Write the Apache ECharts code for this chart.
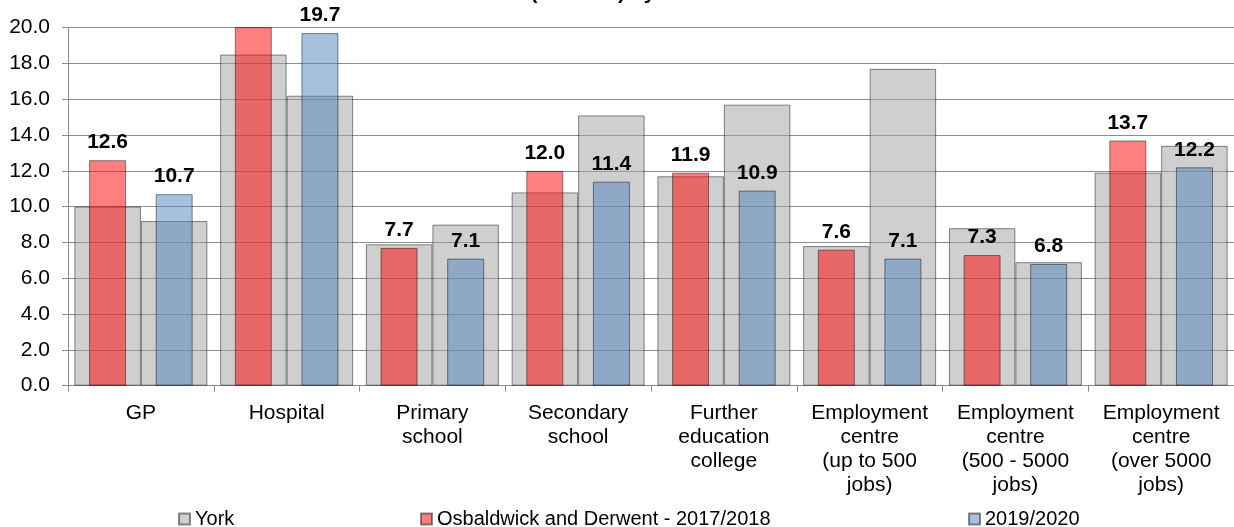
<!DOCTYPE html>
<html>
<head>
<meta charset="utf-8">
<script src="https://cdn.jsdelivr.net/npm/echarts@6/dist/echarts.min.js"></script>
<style>
  html, body { margin: 0; padding: 0; background: #ffffff; }
  #chart { width: 1234px; height: 527px; }
</style>
</head>
<body>
<div id="chart"></div>
<script>
const categories = [
  'GP', 'Hospital', 'Primary\nschool', 'Secondary\nschool',
  'Further\neducation\ncollege',
  'Employment\ncentre\n(up to 500\njobs)',
  'Employment\ncentre\n(500 - 5000\njobs)',
  'Employment\ncentre\n(over 5000\njobs)'
];
const york2017 = [10.0, 18.5, 7.9, 10.8, 11.7, 7.8, 8.8, 11.9];
const york2019 = [9.2, 16.2, 9.0, 15.1, 15.7, 17.7, 6.9, 13.4];
const osb2017 = [12.6, 21.0, 7.7, 12.0, 11.9, 7.6, 7.3, 13.7];
const osb2019 = [10.7, 19.7, 7.1, 11.4, 10.9, 7.1, 6.8, 12.2];
const yTicks = { min: 0, max: 20, interval: 2 };

const FONT = "'Liberation Sans', Arial, sans-serif";
const yMax = yTicks.max;
const border = 'rgba(0,0,0,0.45)';

function withHiddenOverflowLabels(arr) {
  return arr.map(v => v > yMax ? { value: v, label: { show: false } } : v);
}

const labelCfg = {
  show: true, position: 'top', distance: 7,
  color: '#000', fontFamily: FONT, fontSize: 21, fontWeight: 'bold',
  formatter: p => Number(p.value).toFixed(1)
};
const legendText = { fontFamily: FONT, fontSize: 20, color: '#000' };

const chart = echarts.init(document.getElementById('chart'), null, { renderer: 'canvas' });
chart.setOption({
  animation: false,
  backgroundColor: '#ffffff',
  textStyle: { fontFamily: FONT },
  title: {
    text: 'Travel time (minutes) by ward',
    left: 410, top: -22,
    textStyle: { fontFamily: FONT, fontSize: 21, fontWeight: 'bold', color: '#000' }
  },
  grid: { left: 68, right: -6, top: 27.7, bottom: 141.3, containLabel: false },
  legend: [
    { data: ['York'], left: 173, top: 504, itemWidth: 11, itemHeight: 11, icon: 'rect', textStyle: legendText },
    { data: ['Osbaldwick and Derwent - 2017/2018'], left: 415, top: 504, itemWidth: 11, itemHeight: 11, icon: 'rect', textStyle: legendText },
    { data: ['2019/2020'], left: 963, top: 504, itemWidth: 11, itemHeight: 11, icon: 'rect', textStyle: legendText }
  ],
  xAxis: [
    {
      type: 'category', data: categories, position: 'bottom',
      axisLine: { show: true, lineStyle: { color: '#8c8c8c', width: 1 } },
      axisTick: { show: true, length: 6, lineStyle: { color: '#8c8c8c' } },
      axisLabel: { interval: 0, margin: 16, color: '#000', fontFamily: FONT, fontSize: 21, lineHeight: 24, align: 'center' },
      splitLine: { show: false }
    },
    {
      type: 'category', data: categories, position: 'bottom', show: false
    }
  ],
  yAxis: {
    type: 'value', min: yTicks.min, max: yTicks.max, interval: yTicks.interval,
    axisLine: { show: true, lineStyle: { color: '#8c8c8c', width: 1 } },
    axisTick: { show: true, length: 6, lineStyle: { color: '#8c8c8c' } },
    axisLabel: { margin: 18, color: '#000', fontFamily: FONT, fontSize: 21, formatter: v => v.toFixed(1) },
    splitLine: { show: true, lineStyle: { color: '#8c8c8c', width: 1 } }
  },
  series: [
    {
      name: 'York', type: 'bar', xAxisIndex: 0, data: york2017,
      barWidth: 66.5, barGap: '0%',
      itemStyle: { color: 'rgba(160,160,160,0.5)', borderColor: border, borderWidth: 1 }
    },
    {
      name: 'York', type: 'bar', xAxisIndex: 0, data: york2019,
      barWidth: 66.5, barGap: '0%',
      itemStyle: { color: 'rgba(160,160,160,0.5)', borderColor: border, borderWidth: 1 }
    },
    {
      name: 'Osbaldwick and Derwent - 2017/2018', type: 'bar', xAxisIndex: 1,
      data: withHiddenOverflowLabels(osb2017),
      barWidth: 37, barGap: '80%', clip: true,
      itemStyle: { color: 'rgba(255,0,0,0.5)', borderColor: border, borderWidth: 1 },
      label: labelCfg
    },
    {
      name: '2019/2020', type: 'bar', xAxisIndex: 1,
      data: withHiddenOverflowLabels(osb2019),
      barWidth: 37, barGap: '80%', clip: true,
      itemStyle: { color: 'rgba(79,129,189,0.5)', borderColor: border, borderWidth: 1 },
      label: labelCfg
    }
  ]
});
</script>
</body>
</html>
